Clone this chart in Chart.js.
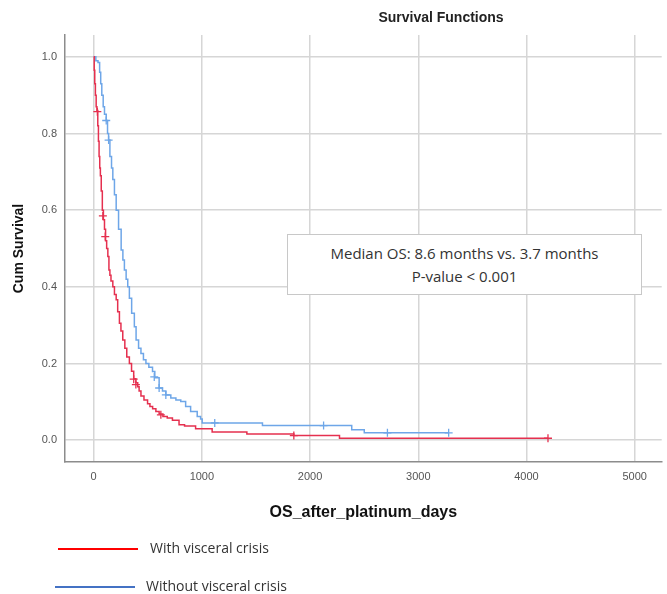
<!DOCTYPE html>
<html>
<head>
<meta charset="utf-8">
<script src="https://cdn.jsdelivr.net/npm/chart.js@4"></script>
<style>
  html, body { margin: 0; padding: 0; background: #fff; }
  #wrap { position: relative; width: 667px; height: 594px; }
  #title { position: absolute; left: 341px; width: 200px; top: 9px; text-align: center;
           font: bold 14px "Liberation Sans", Arial, sans-serif; color: #222; }
  #note { position: absolute; left: 287px; top: 234px; width: 355px; height: 61px;
          border: 1px solid #c8c8c8; background: #fff; text-align: center;
          font: 15px "Open Sans", sans-serif; color: #333; box-sizing: border-box; }
  #note div { height: 23px; line-height: 23px; }
  .leg { position: absolute; font: 14px "Open Sans", sans-serif; color: #333; }
  .leg span { position: absolute; height: 2px; top: 10px; }
</style>
</head>
<body>
<div id="wrap">
  <canvas id="km"></canvas>
  <div id="title">Survival Functions</div>
  <div id="note"><div style="margin-top:7px">Median OS: 8.6 months vs. 3.7 months</div><div>P-value &lt; 0.001</div></div>
  <div class="leg" style="left:58px; top:538px;"><span style="left:0; width:80px; background:#ff0000;"></span><b style="font-weight:normal; margin-left:92px;">With visceral crisis</b></div>
  <div class="leg" style="left:55px; top:576px;"><span style="left:0; width:80px; background:#4472c4;"></span><b style="font-weight:normal; margin-left:91px;">Without visceral crisis</b></div>
</div>
<script>
// with visceral crisis
const redTimes = [0, 5, 10, 16, 23, 30, 38, 44, 50, 56, 62, 70, 80, 90, 100, 110, 120, 131, 141, 150, 160, 177, 192, 208, 222, 238, 252, 269, 288, 306, 330, 350, 370, 390, 407, 420, 437, 465, 498, 520, 545, 575, 605, 640, 680, 728, 789, 840, 942, 1095, 1416, 1850, 2272, 4199];
const redSurv  = [1.0, 0.965, 0.93, 0.90, 0.87, 0.86, 0.82, 0.78, 0.74, 0.71, 0.69, 0.65, 0.60, 0.575, 0.55, 0.52, 0.50, 0.479, 0.444, 0.43, 0.415, 0.40, 0.38, 0.366, 0.335, 0.305, 0.285, 0.261, 0.24, 0.217, 0.20, 0.18, 0.16, 0.15, 0.139, 0.128, 0.115, 0.105, 0.095, 0.088, 0.082, 0.075, 0.068, 0.062, 0.058, 0.052, 0.040, 0.037, 0.030, 0.021, 0.016, 0.012, 0.005, 0.005];
const redCensT = [34, 85, 107, 370, 390, 621, 1850, 4199];
const redCensS = [0.857, 0.585, 0.531, 0.159, 0.145, 0.066, 0.012, 0.005];

// without visceral crisis
const blueTimes = [0, 20, 40, 55, 65, 75, 88, 100, 116, 128, 138, 150, 165, 177, 192, 208, 230, 254, 270, 284, 300, 315, 330, 351, 376, 392, 415, 437, 460, 483, 510, 544, 565, 605, 636, 667, 713, 760, 805, 850, 896, 957, 988, 1003, 1560, 2385, 2501, 3281];
const blueSurv  = [1.0, 0.99, 0.985, 0.96, 0.93, 0.90, 0.87, 0.85, 0.834, 0.80, 0.783, 0.74, 0.71, 0.68, 0.64, 0.60, 0.55, 0.496, 0.47, 0.444, 0.42, 0.40, 0.37, 0.331, 0.296, 0.261, 0.24, 0.226, 0.21, 0.20, 0.19, 0.179, 0.163, 0.136, 0.128, 0.118, 0.110, 0.105, 0.101, 0.088, 0.075, 0.062, 0.055, 0.045, 0.038, 0.027, 0.019, 0.019];
const blueCensT = [116, 138, 560, 605, 667, 1119, 2125, 2715, 3281];
const blueCensS = [0.834, 0.783, 0.165, 0.136, 0.118, 0.045, 0.038, 0.019, 0.019];

const xTicks = [0, 1000, 2000, 3000, 4000, 5000];

const pts = (t, s) => t.map((v, i) => ({ x: v, y: s[i] }));

new Chart(document.getElementById('km'), {
  type: 'scatter',
  data: {
    datasets: [
      { label: 'With visceral crisis', data: pts(redTimes, redSurv), showLine: true, stepped: true,
        borderColor: '#e5304f', borderWidth: 1.5, pointRadius: 0 },
      { label: 'Without visceral crisis', data: pts(blueTimes, blueSurv), showLine: true, stepped: true,
        borderColor: '#6ea6e8', borderWidth: 1.5, pointRadius: 0 },
      { label: 'Censored red', data: pts(redCensT, redCensS), pointStyle: 'cross', pointRadius: 4,
        borderColor: '#e5304f', borderWidth: 1.3 },
      { label: 'Censored blue', data: pts(blueCensT, blueCensS), pointStyle: 'cross', pointRadius: 4,
        borderColor: '#6ea6e8', borderWidth: 1.3 }
    ]
  },
  options: {
    responsive: true,
    maintainAspectRatio: false,
    animation: false,
    layout: { padding: { top: 35, left: 0, right: 0, bottom: 72 } },
    plugins: { legend: { display: false }, tooltip: { enabled: false } },
    scales: {
      x: {
        type: 'linear', min: -265, max: 5250,
        afterFit: s => { s.height = 60; },
        afterBuildTicks: s => { s.ticks = xTicks.map(v => ({ value: v })); },
        grid: { color: '#d6d6d6', lineWidth: 1.5, drawTicks: false },
        border: { color: '#8c8c8c', width: 1.5 },
        ticks: { padding: 8, color: '#555', font: { family: 'Liberation Sans', size: 11 }, callback: v => String(v) },
        title: { display: true, text: 'OS_after_platinum_days', color: '#111',
                 font: { family: 'Liberation Sans', size: 16, weight: 'bold' }, padding: { top: 10, bottom: 0 } }
      },
      y: {
        min: -0.057, max: 1.057,
        afterFit: s => { s.width = 65; },
        ticks: { stepSize: 0.2, includeBounds: false, padding: 8, color: '#555',
                 font: { family: 'Liberation Sans', size: 11 }, callback: v => Number(v).toFixed(1) },
        grid: { color: '#d6d6d6', lineWidth: 1.5, drawTicks: false },
        border: { color: '#8c8c8c', width: 1.5 },
        title: { display: true, text: 'Cum Survival', color: '#111',
                 font: { family: 'Liberation Sans', size: 14, weight: 'bold' }, padding: { top: 11, bottom: 0 } }
      }
    }
  }
});
</script>
</body>
</html>
